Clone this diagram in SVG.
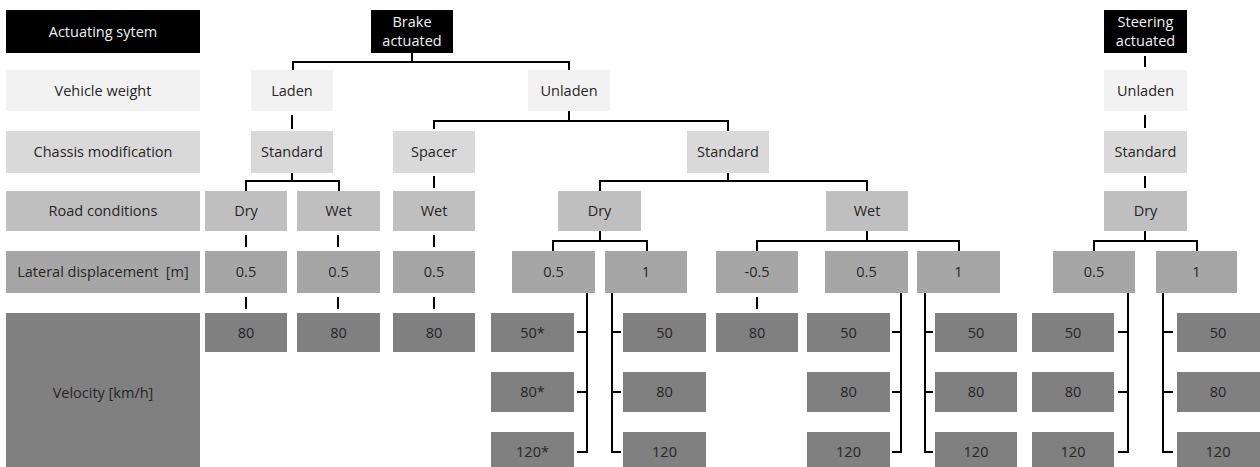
<svg xmlns="http://www.w3.org/2000/svg" width="1260" height="467" viewBox="0 0 1260 467">
<style>
.a{fill:#000}.w{fill:#f2f2f2}.c{fill:#d9d9d9}.r{fill:#bfbfbf}.l{fill:#a6a6a6}.v{fill:#808080}
text{font-family:"Open Sans","Liberation Sans",sans-serif;font-size:14.5px;fill:#262626;text-anchor:middle}
text.tw{fill:#f2f2f2}
.cn path{fill:none;stroke:#000;stroke-width:2}
</style>
<rect width="1260" height="467" fill="#fff"/>
<g id="row-labels">
<g id="lbl-act"><rect class="a" x="6" y="10" width="194" height="43"/><text class="tw" x="103" y="37">Actuating sytem</text></g>
<g id="lbl-weight"><rect class="w" x="6" y="70" width="194" height="41"/><text x="103" y="96">Vehicle weight</text></g>
<g id="lbl-chassis"><rect class="c" x="6" y="131" width="194" height="42"/><text x="103" y="157">Chassis modification</text></g>
<g id="lbl-road"><rect class="r" x="6" y="191" width="194" height="40"/><text x="103" y="216">Road conditions</text></g>
<g id="lbl-lat"><rect class="l" x="6" y="251" width="194" height="42"/><text x="103" y="277" xml:space="preserve">Lateral displacement  [m]</text></g>
<g id="lbl-vel"><rect class="v" x="6" y="313" width="194" height="160"/><text x="103" y="398">Velocity [km/h]</text></g>
</g>
<g id="brake"><rect class="a" x="371" y="10" width="82" height="43"/><text class="tw" x="412" y="27">Brake</text><text class="tw" x="412" y="46">actuated</text></g>
<g id="steer"><rect class="a" x="1104" y="10" width="83" height="43"/><text class="tw" x="1145.5" y="27">Steering</text><text class="tw" x="1145.5" y="46">actuated</text></g>
<g id="laden"><rect class="w" x="251" y="70" width="82" height="41"/><text x="292" y="96">Laden</text></g>
<g id="unladen1"><rect class="w" x="528" y="70" width="82" height="41"/><text x="569" y="96">Unladen</text></g>
<g id="unladen2"><rect class="w" x="1104" y="70" width="83" height="41"/><text x="1145.5" y="96">Unladen</text></g>
<g id="std1"><rect class="c" x="251" y="131" width="82" height="42"/><text x="292" y="157">Standard</text></g>
<g id="spacer"><rect class="c" x="393" y="131" width="82" height="42"/><text x="434" y="157">Spacer</text></g>
<g id="std2"><rect class="c" x="687" y="131" width="82" height="42"/><text x="728" y="157">Standard</text></g>
<g id="std3"><rect class="c" x="1104" y="131" width="83" height="42"/><text x="1145.5" y="157">Standard</text></g>
<g id="dry1"><rect class="r" x="205" y="191" width="82" height="40"/><text x="246" y="216">Dry</text></g>
<g id="wet1"><rect class="r" x="297" y="191" width="83" height="40"/><text x="338.5" y="216">Wet</text></g>
<g id="wet2"><rect class="r" x="393" y="191" width="82" height="40"/><text x="434" y="216">Wet</text></g>
<g id="dry2"><rect class="r" x="558" y="191" width="83" height="40"/><text x="599.5" y="216">Dry</text></g>
<g id="wet3"><rect class="r" x="826" y="191" width="82" height="40"/><text x="867" y="216">Wet</text></g>
<g id="dry3"><rect class="r" x="1104" y="191" width="83" height="40"/><text x="1145.5" y="216">Dry</text></g>
<g id="lat1"><rect class="l" x="205" y="251" width="82" height="42"/><text x="246" y="277">0.5</text></g>
<g id="lat2"><rect class="l" x="297" y="251" width="83" height="42"/><text x="338.5" y="277">0.5</text></g>
<g id="lat3"><rect class="l" x="393" y="251" width="82" height="42"/><text x="434" y="277">0.5</text></g>
<g id="lat4"><rect class="l" x="512" y="251" width="83" height="42"/><text x="553.5" y="277">0.5</text></g>
<g id="lat5"><rect class="l" x="605" y="251" width="82" height="42"/><text x="646" y="277">1</text></g>
<g id="lat6"><rect class="l" x="716" y="251" width="82" height="42"/><text x="757" y="277">-0.5</text></g>
<g id="lat7"><rect class="l" x="825" y="251" width="83" height="42"/><text x="866.5" y="277">0.5</text></g>
<g id="lat8"><rect class="l" x="917" y="251" width="83" height="42"/><text x="958.5" y="277">1</text></g>
<g id="lat9"><rect class="l" x="1053" y="251" width="82" height="42"/><text x="1094" y="277">0.5</text></g>
<g id="lat10"><rect class="l" x="1156" y="251" width="81" height="42"/><text x="1196.5" y="277">1</text></g>
<g id="v1"><rect class="v" x="205" y="313" width="82" height="39"/><text x="246" y="338">80</text></g>
<g id="v2"><rect class="v" x="297" y="313" width="83" height="39"/><text x="338.5" y="338">80</text></g>
<g id="v3"><rect class="v" x="393" y="313" width="82" height="39"/><text x="434" y="338">80</text></g>
<g id="v4"><rect class="v" x="491" y="313" width="83" height="39"/><text x="532.5" y="338">50*</text></g>
<g id="v5"><rect class="v" x="491" y="372" width="83" height="40"/><text x="532.5" y="397">80*</text></g>
<g id="v6"><rect class="v" x="491" y="432" width="83" height="40"/><text x="532.5" y="457">120*</text></g>
<g id="v7"><rect class="v" x="623" y="313" width="83" height="39"/><text x="664.5" y="338">50</text></g>
<g id="v8"><rect class="v" x="623" y="372" width="83" height="40"/><text x="664.5" y="397">80</text></g>
<g id="v9"><rect class="v" x="623" y="432" width="83" height="40"/><text x="664.5" y="457">120</text></g>
<g id="v10"><rect class="v" x="716" y="313" width="82" height="39"/><text x="757" y="338">80</text></g>
<g id="v11"><rect class="v" x="807" y="313" width="83" height="39"/><text x="848.5" y="338">50</text></g>
<g id="v12"><rect class="v" x="807" y="372" width="83" height="40"/><text x="848.5" y="397">80</text></g>
<g id="v13"><rect class="v" x="807" y="432" width="83" height="40"/><text x="848.5" y="457">120</text></g>
<g id="v14"><rect class="v" x="935" y="313" width="82" height="39"/><text x="976" y="338">50</text></g>
<g id="v15"><rect class="v" x="935" y="372" width="82" height="40"/><text x="976" y="397">80</text></g>
<g id="v16"><rect class="v" x="935" y="432" width="82" height="40"/><text x="976" y="457">120</text></g>
<g id="v17"><rect class="v" x="1032" y="313" width="82" height="39"/><text x="1073" y="338">50</text></g>
<g id="v18"><rect class="v" x="1032" y="372" width="82" height="40"/><text x="1073" y="397">80</text></g>
<g id="v19"><rect class="v" x="1032" y="432" width="82" height="40"/><text x="1073" y="457">120</text></g>
<g id="v20"><rect class="v" x="1177" y="313" width="83" height="39"/><text x="1218" y="338">50</text></g>
<g id="v21"><rect class="v" x="1177" y="372" width="83" height="40"/><text x="1218" y="397">80</text></g>
<g id="v22"><rect class="v" x="1177" y="432" width="83" height="40"/><text x="1218" y="457">120</text></g>
<g id="connectors" class="cn">
<path d="M412,53V62M293,70V62H569V70"/>
<path d="M292,115V129"/>
<path d="M569,111V121M434,129V121H728V131"/>
<path d="M1145,56V67M1145,115V128M1145,176V188"/>
<path d="M292,173V181M246,191V181H339V191"/>
<path d="M434,176V188"/>
<path d="M728,173V181M600,191V181H867V191"/>
<path d="M600,231V241M553,251V241H647V251"/>
<path d="M867,231V241M757,251V241H959V251"/>
<path d="M1145,231V241M1094,251V241H1197V251"/>
<path d="M246,235V247M338,235V247M434,235V247"/>
<path d="M246,297V309M338,297V309M434,297V309M757,297V309"/>
<path d="M587,293V452H577M587,332H577M587,392H577"/>
<path d="M612,293V452H621M612,332H621M612,392H621"/>
<path d="M901,293V452H892M901,332H892M901,392H892"/>
<path d="M925,293V452H933M925,332H933M925,392H933"/>
<path d="M1128,293V452H1118M1128,332H1118M1128,392H1118"/>
<path d="M1163,293V452H1173M1163,332H1173M1163,392H1173"/>
</g>
</svg>
